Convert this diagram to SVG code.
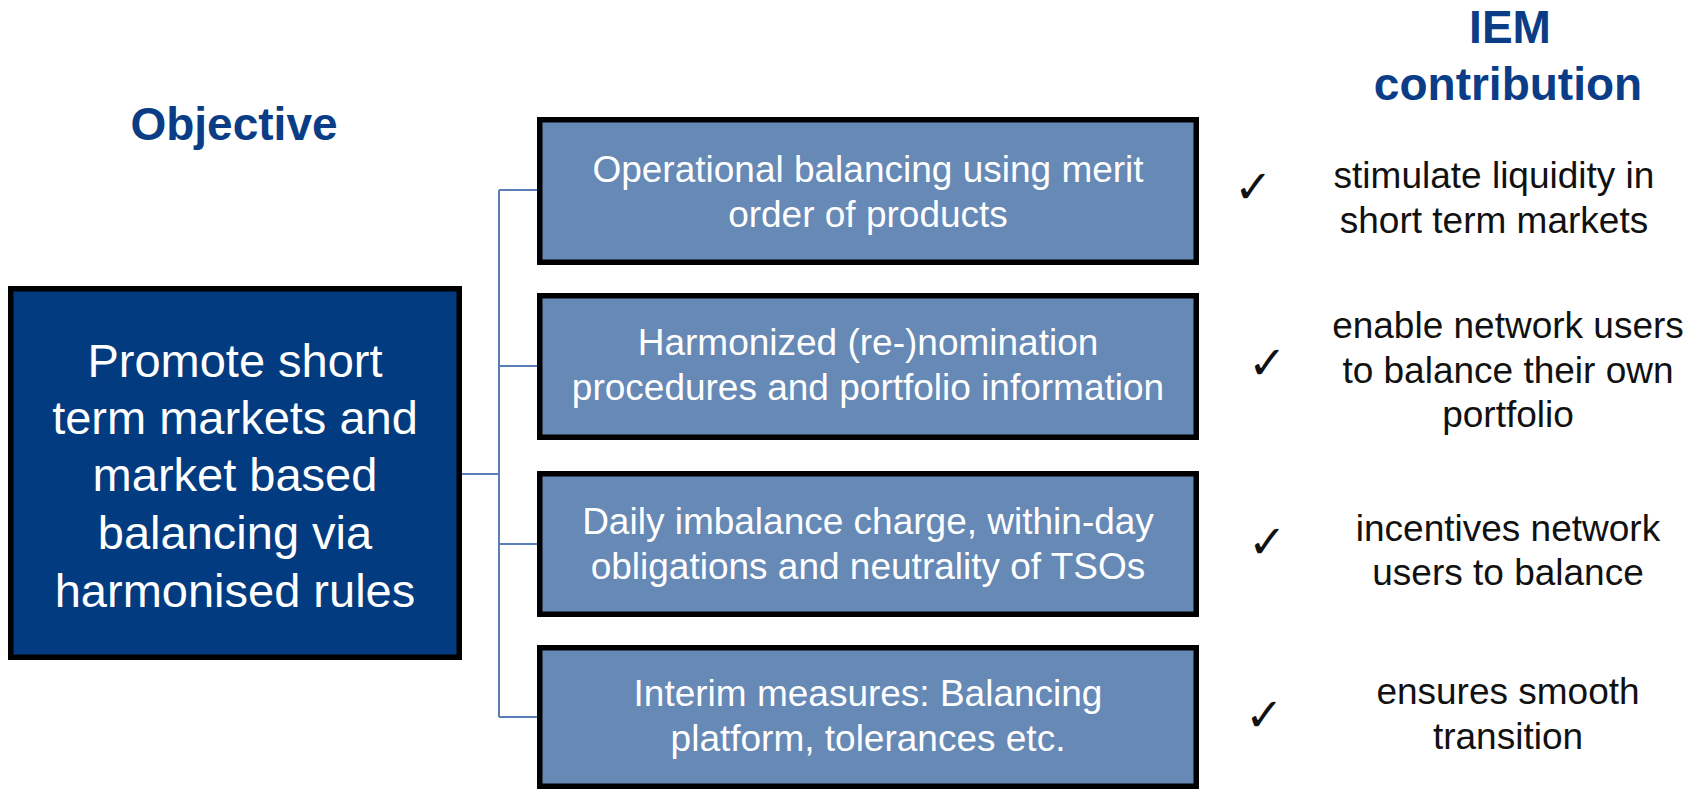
<svg xmlns="http://www.w3.org/2000/svg" width="1706" height="789" viewBox="0 0 1706 789">
<style>
.title{font-family:"Liberation Sans",Arial,sans-serif;font-size:46px;font-weight:bold;fill:#0B3D87;text-anchor:middle}
.main{fill:#023B80;stroke:#000;stroke-width:5.5}
.mtxt{font-family:"Liberation Sans",Arial,sans-serif;font-size:47px;fill:#fff;text-anchor:middle}
.box{fill:#6689B6;stroke:#000;stroke-width:5.5}
.btxt{font-family:"Liberation Sans",Arial,sans-serif;font-size:37px;fill:#fff;text-anchor:middle}
.rtxt{font-family:"Liberation Sans",Arial,sans-serif;font-size:37px;fill:#111;text-anchor:middle}
.chk{font-family:"DejaVu Sans",sans-serif;font-size:46px;fill:#111}
.conn{fill:none;stroke:#5A7FB8;stroke-width:2}
</style>
<rect width="1706" height="789" fill="#fff"/>
<g id="headers">
<text class="title" x="234" y="140">Objective</text>
<text class="title" x="1510" y="43">IEM</text>
<text class="title" x="1508" y="100">contribution</text>
</g>
<g id="connectors">
<path class="conn" d="M462 474H499M499 190V717M499 190H538M499 366H538M499 544H538M499 717H538"/>
</g>
<g id="objective">
<rect class="main" x="10.75" y="288.75" width="448.5" height="368.5"/>
<text class="mtxt" x="235" y="377">Promote short</text>
<text class="mtxt" x="235" y="434">term markets and</text>
<text class="mtxt" x="235" y="491">market based</text>
<text class="mtxt" x="235" y="549">balancing via</text>
<text class="mtxt" x="235" y="607">harmonised rules</text>
</g>
<g id="measure1">
<rect class="box" x="539.75" y="119.75" width="656.5" height="142.5"/>
<text class="btxt" x="868" y="182">Operational balancing using merit</text>
<text class="btxt" x="868" y="227">order of products</text>
</g>
<g id="measure2">
<rect class="box" x="539.75" y="295.75" width="656.5" height="141.5"/>
<text class="btxt" x="868" y="355">Harmonized (re-)nomination</text>
<text class="btxt" x="868" y="400">procedures and portfolio information</text>
</g>
<g id="measure3">
<rect class="box" x="539.75" y="473.75" width="656.5" height="140.5"/>
<text class="btxt" x="868" y="534">Daily imbalance charge, within-day</text>
<text class="btxt" x="868" y="579">obligations and neutrality of TSOs</text>
</g>
<g id="measure4">
<rect class="box" x="539.75" y="647.75" width="656.5" height="138.5"/>
<text class="btxt" x="868" y="706">Interim measures: Balancing</text>
<text class="btxt" x="868" y="751">platform, tolerances etc.</text>
</g>
<g id="contribution1">
<text class="chk" x="1234" y="203">✓</text>
<text class="rtxt" x="1494" y="188">stimulate liquidity in</text>
<text class="rtxt" x="1494" y="233">short term markets</text>
</g>
<g id="contribution2">
<text class="chk" x="1248" y="379">✓</text>
<text class="rtxt" x="1508" y="338">enable network users</text>
<text class="rtxt" x="1508" y="383">to balance their own</text>
<text class="rtxt" x="1508" y="427">portfolio</text>
</g>
<g id="contribution3">
<text class="chk" x="1248" y="558">✓</text>
<text class="rtxt" x="1508" y="541">incentives network</text>
<text class="rtxt" x="1508" y="585">users to balance</text>
</g>
<g id="contribution4">
<text class="chk" x="1245" y="731">✓</text>
<text class="rtxt" x="1508" y="704">ensures smooth</text>
<text class="rtxt" x="1508" y="749">transition</text>
</g>
</svg>
